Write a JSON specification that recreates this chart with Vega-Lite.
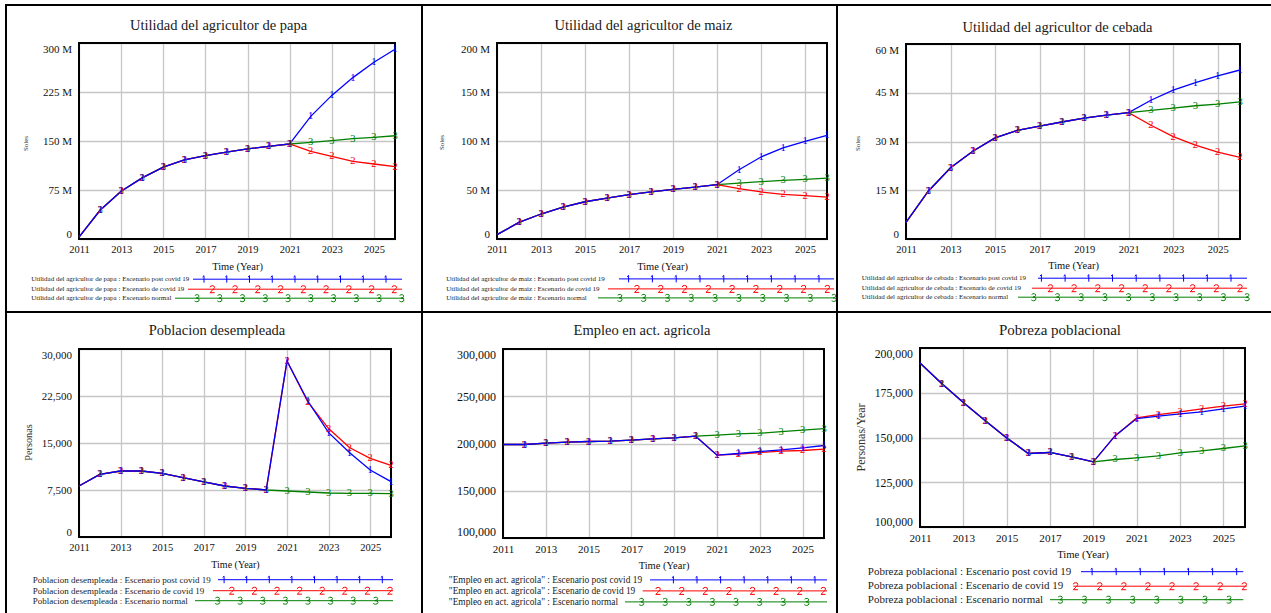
{
"$schema": "https://vega.github.io/schema/vega-lite/v6.json",
"padding": {"left": 5, "top": 4, "right": 0, "bottom": 0},
"background": "white",
"columns": 6,
"spacing": 0,
"bounds": "flush",
"align": "each",
"resolve": {"scale": {"color": "independent", "fill": "independent"}},
"datasets": {
"p1": [
{"t":2011,"1":3000000,"2":3000000,"3":3000000},
{"t":2012,"1":44000000,"2":44000000,"3":44000000},
{"t":2013,"1":73000000,"2":73000000,"3":73000000},
{"t":2014,"1":93500000,"2":93500000,"3":93500000},
{"t":2015,"1":110000000,"2":110000000,"3":110000000},
{"t":2016,"1":121000000,"2":121000000,"3":121000000},
{"t":2017,"1":127500000,"2":127500000,"3":127500000},
{"t":2018,"1":133000000,"2":133000000,"3":133000000},
{"t":2019,"1":138000000,"2":138000000,"3":138000000},
{"t":2020,"1":141700000,"2":141700000,"3":141700000},
{"t":2021,"1":145400000,"2":145400000,"3":145400000},
{"t":2022,"1":187700000,"2":134000000,"3":147900000},
{"t":2023,"1":219800000,"2":126500000,"3":150500000},
{"t":2024,"1":247000000,"2":118800000,"3":153500000},
{"t":2025,"1":270500000,"2":114800000,"3":155500000},
{"t":2026,"1":290500000,"2":110700000,"3":158000000}
],
"p2": [
{"t":2011,"1":4400000,"2":4400000,"3":4400000},
{"t":2012,"1":17000000,"2":17000000,"3":17000000},
{"t":2013,"1":25500000,"2":25500000,"3":25500000},
{"t":2014,"1":32600000,"2":32600000,"3":32600000},
{"t":2015,"1":38000000,"2":38000000,"3":38000000},
{"t":2016,"1":41800000,"2":41800000,"3":41800000},
{"t":2017,"1":45200000,"2":45200000,"3":45200000},
{"t":2018,"1":48000000,"2":48000000,"3":48000000},
{"t":2019,"1":50600000,"2":50600000,"3":50600000},
{"t":2020,"1":53000000,"2":53000000,"3":53000000},
{"t":2021,"1":55400000,"2":55400000,"3":55400000},
{"t":2022,"1":70700000,"2":51300000,"3":57100000},
{"t":2023,"1":83700000,"2":48000000,"3":58500000},
{"t":2024,"1":92900000,"2":45500000,"3":59800000},
{"t":2025,"1":99600000,"2":44200000,"3":60800000},
{"t":2026,"1":105700000,"2":42800000,"3":62200000}
],
"p3": [
{"t":2011,"1":5100000,"2":5100000,"3":5100000},
{"t":2012,"1":14700000,"2":14700000,"3":14700000},
{"t":2013,"1":21900000,"2":21900000,"3":21900000},
{"t":2014,"1":27000000,"2":27000000,"3":27000000},
{"t":2015,"1":31100000,"2":31100000,"3":31100000},
{"t":2016,"1":33400000,"2":33400000,"3":33400000},
{"t":2017,"1":34700000,"2":34700000,"3":34700000},
{"t":2018,"1":36000000,"2":36000000,"3":36000000},
{"t":2019,"1":37200000,"2":37200000,"3":37200000},
{"t":2020,"1":38100000,"2":38100000,"3":38100000},
{"t":2021,"1":38900000,"2":38900000,"3":38900000},
{"t":2022,"1":42700000,"2":35000000,"3":39600000},
{"t":2023,"1":45800000,"2":31500000,"3":40300000},
{"t":2024,"1":48100000,"2":28900000,"3":41000000},
{"t":2025,"1":50200000,"2":26700000,"3":41500000},
{"t":2026,"1":52000000,"2":25100000,"3":42200000}
],
"p4": [
{"t":2011,"1":8140,"2":8140,"3":8140},
{"t":2012,"1":10000,"2":10000,"3":10000},
{"t":2013,"1":10530,"2":10530,"3":10530},
{"t":2014,"1":10530,"2":10530,"3":10530},
{"t":2015,"1":10170,"2":10170,"3":10170},
{"t":2016,"1":9480,"2":9480,"3":9480},
{"t":2017,"1":8780,"2":8780,"3":8780},
{"t":2018,"1":8140,"2":8140,"3":8140},
{"t":2019,"1":7770,"2":7770,"3":7770},
{"t":2020,"1":7500,"2":7500,"3":7500},
{"t":2021,"1":28080,"2":28080,"3":7340},
{"t":2022,"1":21700,"2":21540,"3":7180},
{"t":2023,"1":16660,"2":17300,"3":7020},
{"t":2024,"1":13470,"2":14270,"3":6970},
{"t":2025,"1":10690,"2":12560,"3":6970},
{"t":2026,"1":8840,"2":11440,"3":6930}
],
"p5": [
{"t":2011,"1":198940,"2":198940,"3":198940},
{"t":2012,"1":198940,"2":198940,"3":198940},
{"t":2013,"1":200320,"2":200320,"3":200320},
{"t":2014,"1":201370,"2":201370,"3":201370},
{"t":2015,"1":202110,"2":202110,"3":202110},
{"t":2016,"1":202430,"2":202430,"3":202430},
{"t":2017,"1":203480,"2":203480,"3":203480},
{"t":2018,"1":204860,"2":204860,"3":204860},
{"t":2019,"1":205910,"2":205910,"3":205910},
{"t":2020,"1":207710,"2":207710,"3":207710},
{"t":2021,"1":187650,"2":187650,"3":208760},
{"t":2022,"1":189440,"2":188700,"3":210140},
{"t":2023,"1":191550,"2":190500,"3":210880},
{"t":2024,"1":193240,"2":191870,"3":212670},
{"t":2025,"1":195350,"2":192610,"3":214050},
{"t":2026,"1":197890,"2":193980,"3":215840}
],
"p6": [
{"t":2011,"1":191630,"2":191630,"3":191630},
{"t":2012,"1":180130,"2":180130,"3":180130},
{"t":2013,"1":169530,"2":169530,"3":169530},
{"t":2014,"1":159490,"2":159490,"3":159490},
{"t":2015,"1":149780,"2":149780,"3":149780},
{"t":2016,"1":141070,"2":141070,"3":141070},
{"t":2017,"1":141630,"2":141630,"3":141630},
{"t":2018,"1":139170,"2":139170,"3":139170},
{"t":2019,"1":136380,"2":136380,"3":136380},
{"t":2020,"1":150890,"2":150890,"3":137720},
{"t":2021,"1":160600,"2":160940,"3":138620},
{"t":2022,"1":161890,"2":162830,"3":139730},
{"t":2023,"1":163170,"2":164290,"3":141410},
{"t":2024,"1":164290,"2":165960,"3":142520},
{"t":2025,"1":165960,"2":167470,"3":143860},
{"t":2026,"1":167470,"2":168750,"3":145310}
]
},
"concat": [
{"width": 2, "height": 2, "data": {"values": []}, "mark": "point", "view": {"fill": "black"}},
{"width": 414, "height": 2, "data": {"values": []}, "mark": "point", "view": {"fill": "black"}},
{"width": 2, "height": 2, "data": {"values": []}, "mark": "point", "view": {"fill": "black"}},
{"width": 413, "height": 2, "data": {"values": []}, "mark": "point", "view": {"fill": "black"}},
{"width": 2, "height": 2, "data": {"values": []}, "mark": "point", "view": {"fill": "black"}},
{"width": 433, "height": 2, "data": {"values": []}, "mark": "point", "view": {"fill": "black"}},

{"width": 2, "height": 305, "data": {"values": []}, "mark": "point", "view": {"fill": "black"}},
{
"width": 414, "height": 305,
"data": {"name": "p1"},
"title": {"text": "Utilidad del agricultor de papa", "offset": -38.7, "dx": 4.5, "baseline": "alphabetic"},
"layer": [
{"data": {"values": [{}]}, "mark": {"type": "rect", "filled": false, "stroke": "black", "strokeWidth": 2},
 "encoding": {"x": {"datum": 2011, "type": "quantitative"}, "x2": {"datum": 2026}, "y": {"datum": 0, "type": "quantitative"}, "y2": {"datum": 300000000}}},
{"transform": [{"fold": ["3","2","1"], "as": ["s","v"]}],
 "encoding": {
  "x": {"field": "t", "type": "quantitative", "scale": {"domain": [2011, 2026], "range": [72, 388], "nice": false, "zero": false},
   "axis": {"orient": "top", "offset": -233, "values": [2011,2012,2013,2014,2015,2016,2017,2018,2019,2020,2021,2022,2023,2024,2025,2026], "format": "d", "labelExpr": "datum.value % 2 == 1 ? datum.label : ''", "title": "Time (Year)", "titleY": 30.3, "labelFontSize": 10.5, "titleFontSize": 10.5}},
  "y": {"field": "v", "type": "quantitative", "scale": {"domain": [0, 300000000], "range": [233, 37], "nice": false, "zero": false},
   "axis": {"offset": -72, "values": [0, 75000000, 150000000, 225000000, 300000000], "labelExpr": "datum.value == 0 ? '0' : (datum.value / 1000000) + ' M'", "title": "Soles", "titleX": -54, "titleY": 137, "titleFontSize": 7, "labelFontSize": 11}}
 },
 "layer": [
  {"mark": {"type": "line", "strokeWidth": 1.3},
   "encoding": {"color": {"field": "s", "type": "nominal", "scale": {"domain": ["1","2","3"], "range": ["#0000ff","#ff0000","#008000"]},
   "legend": {"title": null, "orient": "none", "legendX": 391.5, "legendY": 269.7, "rowPadding": -3.8, "labelFontSize": 7, "labelOffset": -374.3,
    "labelExpr": "'Utilidad del agricultor de papa : Escenario ' + (datum.value == '1' ? 'post covid 19' : datum.value == '2' ? 'de covid 19' : 'normal')",
    "encode": {"symbols": {"update": {"fill": {"value": "transparent"}, "fillOpacity": {"value": 0}, "shape": {"signal": "datum.value == '1' ? 'M-209,0H0M-198,-3.5v7m-1.5,-5.6l1.5,-1.4m22.75,0v7m-1.5,-5.6l1.5,-1.4m22.75,0v7m-1.5,-5.6l1.5,-1.4m22.75,0v7m-1.5,-5.6l1.5,-1.4m22.75,0v7m-1.5,-5.6l1.5,-1.4m22.75,0v7m-1.5,-5.6l1.5,-1.4m22.75,0v7m-1.5,-5.6l1.5,-1.4m22.75,0v7m-1.5,-5.6l1.5,-1.4m22.75,0v7m-1.5,-5.6l1.5,-1.4' : datum.value == '2' ? 'M-214,0H0M-191.93,-1.87q0,-1.63 2.23,-1.63q2.23,0 2.23,1.63q0,1.17 -4.6,5.37h4.73m18.16,-5.37q0,-1.63 2.23,-1.63q2.23,0 2.23,1.63q0,1.17 -4.6,5.37h4.73m18.16,-5.37q0,-1.63 2.23,-1.63q2.23,0 2.23,1.63q0,1.17 -4.6,5.37h4.73m18.16,-5.37q0,-1.63 2.23,-1.63q2.23,0 2.23,1.63q0,1.17 -4.6,5.37h4.73m18.16,-5.37q0,-1.63 2.23,-1.63q2.23,0 2.23,1.63q0,1.17 -4.6,5.37h4.73m18.16,-5.37q0,-1.63 2.23,-1.63q2.23,0 2.23,1.63q0,1.17 -4.6,5.37h4.73m18.16,-5.37q0,-1.63 2.23,-1.63q2.23,0 2.23,1.63q0,1.17 -4.6,5.37h4.73m18.16,-5.37q0,-1.63 2.23,-1.63q2.23,0 2.23,1.63q0,1.17 -4.6,5.37h4.73m18.16,-5.37q0,-1.63 2.23,-1.63q2.23,0 2.23,1.63q0,1.17 -4.6,5.37h4.73' : 'M-227,0H2M-207.15,-2.68q1.31,-1.05 2.63,-0.82q1.58,0.35 1.45,1.52q-0.13,1.63 -2.76,1.87q3.15,0 3.02,1.87q-0.13,1.75 -2.37,1.75q-1.45,0 -2.23,-0.82m23.01,-5.37q1.31,-1.05 2.63,-0.82q1.58,0.35 1.45,1.52q-0.13,1.63 -2.76,1.87q3.15,0 3.02,1.87q-0.13,1.75 -2.37,1.75q-1.45,0 -2.23,-0.82m23.01,-5.37q1.31,-1.05 2.63,-0.82q1.58,0.35 1.45,1.52q-0.13,1.63 -2.76,1.87q3.15,0 3.02,1.87q-0.13,1.75 -2.37,1.75q-1.45,0 -2.23,-0.82m23.01,-5.37q1.31,-1.05 2.63,-0.82q1.58,0.35 1.45,1.52q-0.13,1.63 -2.76,1.87q3.15,0 3.02,1.87q-0.13,1.75 -2.37,1.75q-1.45,0 -2.23,-0.82m23.01,-5.37q1.31,-1.05 2.63,-0.82q1.58,0.35 1.45,1.52q-0.13,1.63 -2.76,1.87q3.15,0 3.02,1.87q-0.13,1.75 -2.37,1.75q-1.45,0 -2.23,-0.82m23.01,-5.37q1.31,-1.05 2.63,-0.82q1.58,0.35 1.45,1.52q-0.13,1.63 -2.76,1.87q3.15,0 3.02,1.87q-0.13,1.75 -2.37,1.75q-1.45,0 -2.23,-0.82m23.01,-5.37q1.31,-1.05 2.63,-0.82q1.58,0.35 1.45,1.52q-0.13,1.63 -2.76,1.87q3.15,0 3.02,1.87q-0.13,1.75 -2.37,1.75q-1.45,0 -2.23,-0.82m23.01,-5.37q1.31,-1.05 2.63,-0.82q1.58,0.35 1.45,1.52q-0.13,1.63 -2.76,1.87q3.15,0 3.02,1.87q-0.13,1.75 -2.37,1.75q-1.45,0 -2.23,-0.82m23.01,-5.37q1.31,-1.05 2.63,-0.82q1.58,0.35 1.45,1.52q-0.13,1.63 -2.76,1.87q3.15,0 3.02,1.87q-0.13,1.75 -2.37,1.75q-1.45,0 -2.23,-0.82m23.01,-5.37q1.31,-1.05 2.63,-0.82q1.58,0.35 1.45,1.52q-0.13,1.63 -2.76,1.87q3.15,0 3.02,1.87q-0.13,1.75 -2.37,1.75q-1.45,0 -2.23,-0.82'"}}}}}}}},
  {"transform": [{"filter": "datum.t > 2011"}], "mark": {"type": "text", "font": "Liberation Serif", "fontSize": 10.5, "baseline": "middle"}, "encoding": {"text": {"field": "s"}, "fill": {"field": "s", "type": "nominal", "scale": {"domain": ["1","2","3"], "range": ["#0000ff","#ff0000","#008000"]}, "legend": null}}}
 ]}
]
},
{"width": 2, "height": 305, "data": {"values": []}, "mark": "point", "view": {"fill": "black"}},
{
"width": 413, "height": 305,
"data": {"name": "p2"},
"title": {"text": "Utilidad del agricultor de maiz", "offset": -38.7, "dx": 14, "baseline": "alphabetic"},
"layer": [
{"data": {"values": [{}]}, "mark": {"type": "rect", "filled": false, "stroke": "black", "strokeWidth": 2},
 "encoding": {"x": {"datum": 2011, "type": "quantitative"}, "x2": {"datum": 2026}, "y": {"datum": 0, "type": "quantitative"}, "y2": {"datum": 200000000}}},
{"transform": [{"fold": ["3","2","1"], "as": ["s","v"]}],
 "encoding": {
  "x": {"field": "t", "type": "quantitative", "scale": {"domain": [2011, 2026], "range": [74, 404], "nice": false, "zero": false},
   "axis": {"orient": "top", "offset": -233, "values": [2011,2012,2013,2014,2015,2016,2017,2018,2019,2020,2021,2022,2023,2024,2025,2026], "format": "d", "labelExpr": "datum.value % 2 == 1 ? datum.label : ''", "title": "Time (Year)", "titleY": 30.3, "labelFontSize": 10.5, "titleFontSize": 10.5}},
  "y": {"field": "v", "type": "quantitative", "scale": {"domain": [0, 200000000], "range": [233, 37], "nice": false, "zero": false},
   "axis": {"offset": -74, "values": [0, 50000000, 100000000, 150000000, 200000000], "labelExpr": "datum.value == 0 ? '0' : (datum.value / 1000000) + ' M'", "title": "Soles", "titleX": -56, "titleY": 136, "titleFontSize": 7, "labelFontSize": 11}}
 },
 "layer": [
  {"mark": {"type": "line", "strokeWidth": 1.3},
   "encoding": {"color": {"field": "s", "type": "nominal", "scale": {"domain": ["1","2","3"], "range": ["#0000ff","#ff0000","#008000"]},
   "legend": {"title": null, "orient": "none", "legendX": 407.5, "legendY": 269.4, "rowPadding": -3.65, "labelFontSize": 7, "labelOffset": -391.3,
    "labelExpr": "'Utilidad del agricultor de maiz : Escenario ' + (datum.value == '1' ? 'post covid 19' : datum.value == '2' ? 'de covid 19' : 'normal')",
    "encode": {"symbols": {"update": {"fill": {"value": "transparent"}, "fillOpacity": {"value": 0}, "shape": {"signal": "datum.value == '1' ? 'M-215,0H0M-205.4,-3.5v7m-1.5,-5.6l1.5,-1.4m23.8,0v7m-1.5,-5.6l1.5,-1.4m23.8,0v7m-1.5,-5.6l1.5,-1.4m23.8,0v7m-1.5,-5.6l1.5,-1.4m23.8,0v7m-1.5,-5.6l1.5,-1.4m23.8,0v7m-1.5,-5.6l1.5,-1.4m23.8,0v7m-1.5,-5.6l1.5,-1.4m23.8,0v7m-1.5,-5.6l1.5,-1.4m23.8,0v7m-1.5,-5.6l1.5,-1.4' : datum.value == '2' ? 'M-226,0H0M-199.33,-1.87q0,-1.63 2.23,-1.63q2.23,0 2.23,1.63q0,1.17 -4.6,5.37h4.73m19.21,-5.37q0,-1.63 2.23,-1.63q2.23,0 2.23,1.63q0,1.17 -4.6,5.37h4.73m19.21,-5.37q0,-1.63 2.23,-1.63q2.23,0 2.23,1.63q0,1.17 -4.6,5.37h4.73m19.21,-5.37q0,-1.63 2.23,-1.63q2.23,0 2.23,1.63q0,1.17 -4.6,5.37h4.73m19.21,-5.37q0,-1.63 2.23,-1.63q2.23,0 2.23,1.63q0,1.17 -4.6,5.37h4.73m19.21,-5.37q0,-1.63 2.23,-1.63q2.23,0 2.23,1.63q0,1.17 -4.6,5.37h4.73m19.21,-5.37q0,-1.63 2.23,-1.63q2.23,0 2.23,1.63q0,1.17 -4.6,5.37h4.73m19.21,-5.37q0,-1.63 2.23,-1.63q2.23,0 2.23,1.63q0,1.17 -4.6,5.37h4.73m19.21,-5.37q0,-1.63 2.23,-1.63q2.23,0 2.23,1.63q0,1.17 -4.6,5.37h4.73' : 'M-236,0H0M-216.3,-2.68q1.31,-1.05 2.63,-0.82q1.58,0.35 1.45,1.52q-0.13,1.63 -2.76,1.87q3.15,0 3.02,1.87q-0.13,1.75 -2.37,1.75q-1.45,0 -2.23,-0.82m24.06,-5.37q1.31,-1.05 2.63,-0.82q1.58,0.35 1.45,1.52q-0.13,1.63 -2.76,1.87q3.15,0 3.02,1.87q-0.13,1.75 -2.37,1.75q-1.45,0 -2.23,-0.82m24.06,-5.37q1.31,-1.05 2.63,-0.82q1.58,0.35 1.45,1.52q-0.13,1.63 -2.76,1.87q3.15,0 3.02,1.87q-0.13,1.75 -2.37,1.75q-1.45,0 -2.23,-0.82m24.06,-5.37q1.31,-1.05 2.63,-0.82q1.58,0.35 1.45,1.52q-0.13,1.63 -2.76,1.87q3.15,0 3.02,1.87q-0.13,1.75 -2.37,1.75q-1.45,0 -2.23,-0.82m24.06,-5.37q1.31,-1.05 2.63,-0.82q1.58,0.35 1.45,1.52q-0.13,1.63 -2.76,1.87q3.15,0 3.02,1.87q-0.13,1.75 -2.37,1.75q-1.45,0 -2.23,-0.82m24.06,-5.37q1.31,-1.05 2.63,-0.82q1.58,0.35 1.45,1.52q-0.13,1.63 -2.76,1.87q3.15,0 3.02,1.87q-0.13,1.75 -2.37,1.75q-1.45,0 -2.23,-0.82m24.06,-5.37q1.31,-1.05 2.63,-0.82q1.58,0.35 1.45,1.52q-0.13,1.63 -2.76,1.87q3.15,0 3.02,1.87q-0.13,1.75 -2.37,1.75q-1.45,0 -2.23,-0.82m24.06,-5.37q1.31,-1.05 2.63,-0.82q1.58,0.35 1.45,1.52q-0.13,1.63 -2.76,1.87q3.15,0 3.02,1.87q-0.13,1.75 -2.37,1.75q-1.45,0 -2.23,-0.82m24.06,-5.37q1.31,-1.05 2.63,-0.82q1.58,0.35 1.45,1.52q-0.13,1.63 -2.76,1.87q3.15,0 3.02,1.87q-0.13,1.75 -2.37,1.75q-1.45,0 -2.23,-0.82m24.06,-5.37q1.31,-1.05 2.63,-0.82q1.58,0.35 1.45,1.52q-0.13,1.63 -2.76,1.87q3.15,0 3.02,1.87q-0.13,1.75 -2.37,1.75q-1.45,0 -2.23,-0.82'"}}}}}}}},
  {"transform": [{"filter": "datum.t > 2011"}], "mark": {"type": "text", "font": "Liberation Serif", "fontSize": 10.5, "baseline": "middle"}, "encoding": {"text": {"field": "s"}, "fill": {"field": "s", "type": "nominal", "scale": {"domain": ["1","2","3"], "range": ["#0000ff","#ff0000","#008000"]}, "legend": null}}}
 ]}
]
},
{"width": 2, "height": 305, "data": {"values": []}, "mark": "point", "view": {"fill": "black"}},
{
"width": 433, "height": 305,
"data": {"name": "p3"},
"title": {"text": "Utilidad del agricultor de cebada", "offset": -40.3, "dx": 3, "baseline": "alphabetic"},
"layer": [
{"data": {"values": [{}]}, "mark": {"type": "rect", "filled": false, "stroke": "black", "strokeWidth": 2},
 "encoding": {"x": {"datum": 2011, "type": "quantitative"}, "x2": {"datum": 2026}, "y": {"datum": 0, "type": "quantitative"}, "y2": {"datum": 60000000}}},
{"transform": [{"fold": ["3","2","1"], "as": ["s","v"]}],
 "encoding": {
  "x": {"field": "t", "type": "quantitative", "scale": {"domain": [2011, 2026], "range": [68, 402], "nice": false, "zero": false},
   "axis": {"orient": "top", "offset": -233, "values": [2011,2012,2013,2014,2015,2016,2017,2018,2019,2020,2021,2022,2023,2024,2025,2026], "format": "d", "labelExpr": "datum.value % 2 == 1 ? datum.label : ''", "title": "Time (Year)", "titleY": 29.5, "labelFontSize": 10.5, "titleFontSize": 10.5}},
  "y": {"field": "v", "type": "quantitative", "scale": {"domain": [0, 60000000], "range": [233, 38], "nice": false, "zero": false},
   "axis": {"offset": -68, "values": [0, 15000000, 30000000, 45000000, 60000000], "labelExpr": "datum.value == 0 ? '0' : (datum.value / 1000000) + ' M'", "title": "Soles", "titleX": -48.3, "titleY": 137, "titleFontSize": 7, "labelFontSize": 11}}
 },
 "layer": [
  {"mark": {"type": "line", "strokeWidth": 1.3},
   "encoding": {"color": {"field": "s", "type": "nominal", "scale": {"domain": ["1","2","3"], "range": ["#0000ff","#ff0000","#008000"]},
   "legend": {"title": null, "orient": "none", "legendX": 405.5, "legendY": 268.7, "rowPadding": -3.8, "labelFontSize": 7, "labelOffset": -388.7,
    "labelExpr": "'Utilidad del agricultor de cebada : Escenario ' + (datum.value == '1' ? 'post covid 19' : datum.value == '2' ? 'de covid 19' : 'normal')",
    "encode": {"symbols": {"update": {"fill": {"value": "transparent"}, "fillOpacity": {"value": 0}, "shape": {"signal": "datum.value == '1' ? 'M-209,0H0M-205.6,-3.5v7m-1.5,-5.6l1.5,-1.4m23.7,0v7m-1.5,-5.6l1.5,-1.4m23.7,0v7m-1.5,-5.6l1.5,-1.4m23.7,0v7m-1.5,-5.6l1.5,-1.4m23.7,0v7m-1.5,-5.6l1.5,-1.4m23.7,0v7m-1.5,-5.6l1.5,-1.4m23.7,0v7m-1.5,-5.6l1.5,-1.4m23.7,0v7m-1.5,-5.6l1.5,-1.4m23.7,0v7m-1.5,-5.6l1.5,-1.4' : datum.value == '2' ? 'M-215,0H0M-198.83,-1.87q0,-1.63 2.23,-1.63q2.23,0 2.23,1.63q0,1.17 -4.6,5.37h4.73m19.11,-5.37q0,-1.63 2.23,-1.63q2.23,0 2.23,1.63q0,1.17 -4.6,5.37h4.73m19.11,-5.37q0,-1.63 2.23,-1.63q2.23,0 2.23,1.63q0,1.17 -4.6,5.37h4.73m19.11,-5.37q0,-1.63 2.23,-1.63q2.23,0 2.23,1.63q0,1.17 -4.6,5.37h4.73m19.11,-5.37q0,-1.63 2.23,-1.63q2.23,0 2.23,1.63q0,1.17 -4.6,5.37h4.73m19.11,-5.37q0,-1.63 2.23,-1.63q2.23,0 2.23,1.63q0,1.17 -4.6,5.37h4.73m19.11,-5.37q0,-1.63 2.23,-1.63q2.23,0 2.23,1.63q0,1.17 -4.6,5.37h4.73m19.11,-5.37q0,-1.63 2.23,-1.63q2.23,0 2.23,1.63q0,1.17 -4.6,5.37h4.73m19.11,-5.37q0,-1.63 2.23,-1.63q2.23,0 2.23,1.63q0,1.17 -4.6,5.37h4.73' : 'M-229,0H1M-215.4,-2.68q1.31,-1.05 2.63,-0.82q1.58,0.35 1.45,1.52q-0.13,1.63 -2.76,1.87q3.15,0 3.02,1.87q-0.13,1.75 -2.37,1.75q-1.45,0 -2.23,-0.82m23.96,-5.37q1.31,-1.05 2.63,-0.82q1.58,0.35 1.45,1.52q-0.13,1.63 -2.76,1.87q3.15,0 3.02,1.87q-0.13,1.75 -2.37,1.75q-1.45,0 -2.23,-0.82m23.96,-5.37q1.31,-1.05 2.63,-0.82q1.58,0.35 1.45,1.52q-0.13,1.63 -2.76,1.87q3.15,0 3.02,1.87q-0.13,1.75 -2.37,1.75q-1.45,0 -2.23,-0.82m23.96,-5.37q1.31,-1.05 2.63,-0.82q1.58,0.35 1.45,1.52q-0.13,1.63 -2.76,1.87q3.15,0 3.02,1.87q-0.13,1.75 -2.37,1.75q-1.45,0 -2.23,-0.82m23.96,-5.37q1.31,-1.05 2.63,-0.82q1.58,0.35 1.45,1.52q-0.13,1.63 -2.76,1.87q3.15,0 3.02,1.87q-0.13,1.75 -2.37,1.75q-1.45,0 -2.23,-0.82m23.96,-5.37q1.31,-1.05 2.63,-0.82q1.58,0.35 1.45,1.52q-0.13,1.63 -2.76,1.87q3.15,0 3.02,1.87q-0.13,1.75 -2.37,1.75q-1.45,0 -2.23,-0.82m23.96,-5.37q1.31,-1.05 2.63,-0.82q1.58,0.35 1.45,1.52q-0.13,1.63 -2.76,1.87q3.15,0 3.02,1.87q-0.13,1.75 -2.37,1.75q-1.45,0 -2.23,-0.82m23.96,-5.37q1.31,-1.05 2.63,-0.82q1.58,0.35 1.45,1.52q-0.13,1.63 -2.76,1.87q3.15,0 3.02,1.87q-0.13,1.75 -2.37,1.75q-1.45,0 -2.23,-0.82m23.96,-5.37q1.31,-1.05 2.63,-0.82q1.58,0.35 1.45,1.52q-0.13,1.63 -2.76,1.87q3.15,0 3.02,1.87q-0.13,1.75 -2.37,1.75q-1.45,0 -2.23,-0.82m23.96,-5.37q1.31,-1.05 2.63,-0.82q1.58,0.35 1.45,1.52q-0.13,1.63 -2.76,1.87q3.15,0 3.02,1.87q-0.13,1.75 -2.37,1.75q-1.45,0 -2.23,-0.82'"}}}}}}}},
  {"transform": [{"filter": "datum.t > 2011"}], "mark": {"type": "text", "font": "Liberation Serif", "fontSize": 10.5, "baseline": "middle"}, "encoding": {"text": {"field": "s"}, "fill": {"field": "s", "type": "nominal", "scale": {"domain": ["1","2","3"], "range": ["#0000ff","#ff0000","#008000"]}, "legend": null}}}
 ]}
]
},

{"width": 2, "height": 2, "data": {"values": []}, "mark": "point", "view": {"fill": "black"}},
{"width": 414, "height": 2, "data": {"values": []}, "mark": "point", "view": {"fill": "black"}},
{"width": 2, "height": 2, "data": {"values": []}, "mark": "point", "view": {"fill": "black"}},
{"width": 413, "height": 2, "data": {"values": []}, "mark": "point", "view": {"fill": "black"}},
{"width": 2, "height": 2, "data": {"values": []}, "mark": "point", "view": {"fill": "black"}},
{"width": 433, "height": 2, "data": {"values": []}, "mark": "point", "view": {"fill": "black"}},

{"width": 2, "height": 300, "data": {"values": []}, "mark": "point", "view": {"fill": "black"}},
{
"width": 414, "height": 300,
"data": {"name": "p4"},
"title": {"text": "Poblacion desempleada", "offset": -36.7, "dx": 3, "baseline": "alphabetic"},
"layer": [
{"data": {"values": [{}]}, "mark": {"type": "rect", "filled": false, "stroke": "black", "strokeWidth": 2},
 "encoding": {"x": {"datum": 2011, "type": "quantitative"}, "x2": {"datum": 2026}, "y": {"datum": 0, "type": "quantitative"}, "y2": {"datum": 30000}}},
{"transform": [{"fold": ["3","2","1"], "as": ["s","v"]}],
 "encoding": {
  "x": {"field": "t", "type": "quantitative", "scale": {"domain": [2011, 2026], "range": [72, 384], "nice": false, "zero": false},
   "axis": {"orient": "top", "offset": -224, "values": [2011,2012,2013,2014,2015,2016,2017,2018,2019,2020,2021,2022,2023,2024,2025,2026], "format": "d", "labelExpr": "datum.value % 2 == 1 ? datum.label : ''", "title": "Time (Year)", "titleY": 30.7, "labelFontSize": 10.5, "titleFontSize": 10}},
  "y": {"field": "v", "type": "quantitative", "scale": {"domain": [0, 30000], "range": [224, 36], "nice": false, "zero": false},
   "axis": {"offset": -72, "values": [0, 7500, 15000, 22500, 30000], "labelExpr": "format(datum.value, ',')", "title": "Personas", "titleX": -51, "titleY": 129, "titleFontSize": 10.3, "labelFontSize": 11}}
 },
 "layer": [
  {"mark": {"type": "line", "strokeWidth": 1.3},
   "encoding": {"color": {"field": "s", "type": "nominal", "scale": {"domain": ["1","2","3"], "range": ["#0000ff","#ff0000","#008000"]},
   "legend": {"title": null, "orient": "none", "legendX": 381.5, "legendY": 262.2, "rowPadding": -2, "labelFontSize": 9, "labelOffset": -364.7,
    "labelExpr": "'Poblacion desempleada : Escenario ' + (datum.value == '1' ? 'post covid 19' : datum.value == '2' ? 'de covid 19' : 'normal')",
    "encode": {"symbols": {"update": {"fill": {"value": "transparent"}, "fillOpacity": {"value": 0}, "shape": {"signal": "datum.value == '1' ? 'M-175,0H0M-168.9,-3.5v7m-1.5,-5.6l1.5,-1.4m22.6,0v7m-1.5,-5.6l1.5,-1.4m22.6,0v7m-1.5,-5.6l1.5,-1.4m22.6,0v7m-1.5,-5.6l1.5,-1.4m22.6,0v7m-1.5,-5.6l1.5,-1.4m22.6,0v7m-1.5,-5.6l1.5,-1.4m22.6,0v7m-1.5,-5.6l1.5,-1.4m22.6,0v7m-1.5,-5.6l1.5,-1.4' : datum.value == '2' ? 'M-180,0H0M-163.43,-1.87q0,-1.63 2.23,-1.63q2.23,0 2.23,1.63q0,1.17 -4.6,5.37h4.73m18.01,-5.37q0,-1.63 2.23,-1.63q2.23,0 2.23,1.63q0,1.17 -4.6,5.37h4.73m18.01,-5.37q0,-1.63 2.23,-1.63q2.23,0 2.23,1.63q0,1.17 -4.6,5.37h4.73m18.01,-5.37q0,-1.63 2.23,-1.63q2.23,0 2.23,1.63q0,1.17 -4.6,5.37h4.73m18.01,-5.37q0,-1.63 2.23,-1.63q2.23,0 2.23,1.63q0,1.17 -4.6,5.37h4.73m18.01,-5.37q0,-1.63 2.23,-1.63q2.23,0 2.23,1.63q0,1.17 -4.6,5.37h4.73m18.01,-5.37q0,-1.63 2.23,-1.63q2.23,0 2.23,1.63q0,1.17 -4.6,5.37h4.73m18.01,-5.37q0,-1.63 2.23,-1.63q2.23,0 2.23,1.63q0,1.17 -4.6,5.37h4.73' : 'M-198,0H0M-177.6,-2.68q1.31,-1.05 2.63,-0.82q1.58,0.35 1.45,1.52q-0.13,1.63 -2.76,1.87q3.15,0 3.02,1.87q-0.13,1.75 -2.37,1.75q-1.45,0 -2.23,-0.82m22.86,-5.37q1.31,-1.05 2.63,-0.82q1.58,0.35 1.45,1.52q-0.13,1.63 -2.76,1.87q3.15,0 3.02,1.87q-0.13,1.75 -2.37,1.75q-1.45,0 -2.23,-0.82m22.86,-5.37q1.31,-1.05 2.63,-0.82q1.58,0.35 1.45,1.52q-0.13,1.63 -2.76,1.87q3.15,0 3.02,1.87q-0.13,1.75 -2.37,1.75q-1.45,0 -2.23,-0.82m22.86,-5.37q1.31,-1.05 2.63,-0.82q1.58,0.35 1.45,1.52q-0.13,1.63 -2.76,1.87q3.15,0 3.02,1.87q-0.13,1.75 -2.37,1.75q-1.45,0 -2.23,-0.82m22.86,-5.37q1.31,-1.05 2.63,-0.82q1.58,0.35 1.45,1.52q-0.13,1.63 -2.76,1.87q3.15,0 3.02,1.87q-0.13,1.75 -2.37,1.75q-1.45,0 -2.23,-0.82m22.86,-5.37q1.31,-1.05 2.63,-0.82q1.58,0.35 1.45,1.52q-0.13,1.63 -2.76,1.87q3.15,0 3.02,1.87q-0.13,1.75 -2.37,1.75q-1.45,0 -2.23,-0.82m22.86,-5.37q1.31,-1.05 2.63,-0.82q1.58,0.35 1.45,1.52q-0.13,1.63 -2.76,1.87q3.15,0 3.02,1.87q-0.13,1.75 -2.37,1.75q-1.45,0 -2.23,-0.82m22.86,-5.37q1.31,-1.05 2.63,-0.82q1.58,0.35 1.45,1.52q-0.13,1.63 -2.76,1.87q3.15,0 3.02,1.87q-0.13,1.75 -2.37,1.75q-1.45,0 -2.23,-0.82'"}}}}}}}},
  {"transform": [{"filter": "datum.t > 2011"}], "mark": {"type": "text", "font": "Liberation Serif", "fontSize": 10.5, "baseline": "middle"}, "encoding": {"text": {"field": "s"}, "fill": {"field": "s", "type": "nominal", "scale": {"domain": ["1","2","3"], "range": ["#0000ff","#ff0000","#008000"]}, "legend": null}}}
 ]}
]
},
{"width": 2, "height": 300, "data": {"values": []}, "mark": "point", "view": {"fill": "black"}},
{
"width": 413, "height": 300,
"data": {"name": "p5"},
"title": {"text": "Empleo en act. agricola", "offset": -36.7, "dx": 12.5, "baseline": "alphabetic"},
"layer": [
{"data": {"values": [{}]}, "mark": {"type": "rect", "filled": false, "stroke": "black", "strokeWidth": 2},
 "encoding": {"x": {"datum": 2011, "type": "quantitative"}, "x2": {"datum": 2026}, "y": {"datum": 100000, "type": "quantitative"}, "y2": {"datum": 300000}}},
{"transform": [{"fold": ["3","2","1"], "as": ["s","v"]}],
 "encoding": {
  "x": {"field": "t", "type": "quantitative", "scale": {"domain": [2011, 2026], "range": [80, 401], "nice": false, "zero": false},
   "axis": {"orient": "top", "offset": -225, "values": [2011,2012,2013,2014,2015,2016,2017,2018,2019,2020,2021,2022,2023,2024,2025,2026], "format": "d", "labelExpr": "datum.value % 2 == 1 ? datum.label : ''", "title": "Time (Year)", "titleY": 30.7, "labelFontSize": 11, "titleFontSize": 10.5}},
  "y": {"field": "v", "type": "quantitative", "scale": {"domain": [100000, 300000], "range": [225, 36], "nice": false, "zero": false},
   "axis": {"offset": -80, "values": [100000, 150000, 200000, 250000, 300000], "labelExpr": "format(datum.value, ',')", "title": null, "labelFontSize": 12}}
 },
 "layer": [
  {"mark": {"type": "line", "strokeWidth": 1.3},
   "encoding": {"color": {"field": "s", "type": "nominal", "scale": {"domain": ["1","2","3"], "range": ["#0000ff","#ff0000","#008000"]},
   "legend": {"title": null, "orient": "none", "legendX": 399.3, "legendY": 262.2, "rowPadding": -2, "labelFontSize": 9.4, "labelOffset": -382.9,
    "labelExpr": "'\"Empleo en act. agricola\" : Escenario ' + (datum.value == '1' ? 'post covid 19' : datum.value == '2' ? 'de covid 19' : 'normal')",
    "encode": {"symbols": {"update": {"fill": {"value": "transparent"}, "fillOpacity": {"value": 0}, "shape": {"signal": "datum.value == '1' ? 'M-177,0H0M-153.6,-3.5v7m-1.5,-5.6l1.5,-1.4m23.6,0v7m-1.5,-5.6l1.5,-1.4m23.6,0v7m-1.5,-5.6l1.5,-1.4m23.6,0v7m-1.5,-5.6l1.5,-1.4m23.6,0v7m-1.5,-5.6l1.5,-1.4m23.6,0v7m-1.5,-5.6l1.5,-1.4m23.6,0v7m-1.5,-5.6l1.5,-1.4' : datum.value == '2' ? 'M-184.3,0H0M-171.13,-1.87q0,-1.63 2.23,-1.63q2.23,0 2.23,1.63q0,1.17 -4.6,5.37h4.73m19.01,-5.37q0,-1.63 2.23,-1.63q2.23,0 2.23,1.63q0,1.17 -4.6,5.37h4.73m19.01,-5.37q0,-1.63 2.23,-1.63q2.23,0 2.23,1.63q0,1.17 -4.6,5.37h4.73m19.01,-5.37q0,-1.63 2.23,-1.63q2.23,0 2.23,1.63q0,1.17 -4.6,5.37h4.73m19.01,-5.37q0,-1.63 2.23,-1.63q2.23,0 2.23,1.63q0,1.17 -4.6,5.37h4.73m19.01,-5.37q0,-1.63 2.23,-1.63q2.23,0 2.23,1.63q0,1.17 -4.6,5.37h4.73m19.01,-5.37q0,-1.63 2.23,-1.63q2.23,0 2.23,1.63q0,1.17 -4.6,5.37h4.73m19.01,-5.37q0,-1.63 2.23,-1.63q2.23,0 2.23,1.63q0,1.17 -4.6,5.37h4.73' : 'M-202,0H0M-187.6,-2.68q1.31,-1.05 2.63,-0.82q1.58,0.35 1.45,1.52q-0.13,1.63 -2.76,1.87q3.15,0 3.02,1.87q-0.13,1.75 -2.37,1.75q-1.45,0 -2.23,-0.82m23.86,-5.37q1.31,-1.05 2.63,-0.82q1.58,0.35 1.45,1.52q-0.13,1.63 -2.76,1.87q3.15,0 3.02,1.87q-0.13,1.75 -2.37,1.75q-1.45,0 -2.23,-0.82m23.86,-5.37q1.31,-1.05 2.63,-0.82q1.58,0.35 1.45,1.52q-0.13,1.63 -2.76,1.87q3.15,0 3.02,1.87q-0.13,1.75 -2.37,1.75q-1.45,0 -2.23,-0.82m23.86,-5.37q1.31,-1.05 2.63,-0.82q1.58,0.35 1.45,1.52q-0.13,1.63 -2.76,1.87q3.15,0 3.02,1.87q-0.13,1.75 -2.37,1.75q-1.45,0 -2.23,-0.82m23.86,-5.37q1.31,-1.05 2.63,-0.82q1.58,0.35 1.45,1.52q-0.13,1.63 -2.76,1.87q3.15,0 3.02,1.87q-0.13,1.75 -2.37,1.75q-1.45,0 -2.23,-0.82m23.86,-5.37q1.31,-1.05 2.63,-0.82q1.58,0.35 1.45,1.52q-0.13,1.63 -2.76,1.87q3.15,0 3.02,1.87q-0.13,1.75 -2.37,1.75q-1.45,0 -2.23,-0.82m23.86,-5.37q1.31,-1.05 2.63,-0.82q1.58,0.35 1.45,1.52q-0.13,1.63 -2.76,1.87q3.15,0 3.02,1.87q-0.13,1.75 -2.37,1.75q-1.45,0 -2.23,-0.82m23.86,-5.37q1.31,-1.05 2.63,-0.82q1.58,0.35 1.45,1.52q-0.13,1.63 -2.76,1.87q3.15,0 3.02,1.87q-0.13,1.75 -2.37,1.75q-1.45,0 -2.23,-0.82'"}}}}}}}},
  {"transform": [{"filter": "datum.t > 2011"}], "mark": {"type": "text", "font": "Liberation Serif", "fontSize": 10.5, "baseline": "middle"}, "encoding": {"text": {"field": "s"}, "fill": {"field": "s", "type": "nominal", "scale": {"domain": ["1","2","3"], "range": ["#0000ff","#ff0000","#008000"]}, "legend": null}}}
 ]}
]
},
{"width": 2, "height": 300, "data": {"values": []}, "mark": "point", "view": {"fill": "black"}},
{
"width": 433, "height": 300,
"data": {"name": "p6"},
"title": {"text": "Pobreza poblacional", "offset": -36.7, "dx": 5.5, "fontSize": 15, "baseline": "alphabetic"},
"layer": [
{"data": {"values": [{}]}, "mark": {"type": "rect", "filled": false, "stroke": "black", "strokeWidth": 2},
 "encoding": {"x": {"datum": 2011, "type": "quantitative"}, "x2": {"datum": 2026}, "y": {"datum": 100000, "type": "quantitative"}, "y2": {"datum": 200000}}},
{"transform": [{"fold": ["3","2","1"], "as": ["s","v"]}],
 "encoding": {
  "x": {"field": "t", "type": "quantitative", "scale": {"domain": [2011, 2026], "range": [82, 407], "nice": false, "zero": false},
   "axis": {"orient": "top", "offset": -214, "values": [2011,2012,2013,2014,2015,2016,2017,2018,2019,2020,2021,2022,2023,2024,2025,2026], "format": "d", "labelExpr": "datum.value % 2 == 1 ? datum.label : ''", "title": "Time (Year)", "titleY": 30.7, "labelFontSize": 11.2, "titleFontSize": 10.7}},
  "y": {"field": "v", "type": "quantitative", "scale": {"domain": [100000, 200000], "range": [214, 35], "nice": false, "zero": false},
   "axis": {"offset": -82, "values": [100000, 125000, 150000, 175000, 200000], "labelExpr": "format(datum.value, ',')", "title": "Personas/Year", "titleX": -60, "titleY": 124, "titleFontSize": 12, "labelFontSize": 11.8}}
 },
 "layer": [
  {"mark": {"type": "line", "strokeWidth": 1.3},
   "encoding": {"color": {"field": "s", "type": "nominal", "scale": {"domain": ["1","2","3"], "range": ["#0000ff","#ff0000","#008000"]},
   "legend": {"title": null, "orient": "none", "legendX": 401.5, "legendY": 253.2, "rowPadding": 1.5, "labelFontSize": 11, "labelOffset": -382.7,
    "labelExpr": "'Pobreza poblacional : Escenario ' + (datum.value == '1' ? 'post covid 19' : datum.value == '2' ? 'de covid 19' : 'normal')",
    "encode": {"symbols": {"update": {"fill": {"value": "transparent"}, "fillOpacity": {"value": 0}, "shape": {"signal": "datum.value == '1' ? 'M-164,0H-1.7M-152.9,-3.5v7m-1.5,-5.6l1.5,-1.4m24.1,0v7m-1.5,-5.6l1.5,-1.4m24.1,0v7m-1.5,-5.6l1.5,-1.4m24.1,0v7m-1.5,-5.6l1.5,-1.4m24.1,0v7m-1.5,-5.6l1.5,-1.4m24.1,0v7m-1.5,-5.6l1.5,-1.4m24.1,0v7m-1.5,-5.6l1.5,-1.4' : datum.value == '2' ? 'M-171.7,0H1.7M-171.63,-1.87q0,-1.63 2.23,-1.63q2.23,0 2.23,1.63q0,1.17 -4.6,5.37h4.73m19.51,-5.37q0,-1.63 2.23,-1.63q2.23,0 2.23,1.63q0,1.17 -4.6,5.37h4.73m19.51,-5.37q0,-1.63 2.23,-1.63q2.23,0 2.23,1.63q0,1.17 -4.6,5.37h4.73m19.51,-5.37q0,-1.63 2.23,-1.63q2.23,0 2.23,1.63q0,1.17 -4.6,5.37h4.73m19.51,-5.37q0,-1.63 2.23,-1.63q2.23,0 2.23,1.63q0,1.17 -4.6,5.37h4.73m19.51,-5.37q0,-1.63 2.23,-1.63q2.23,0 2.23,1.63q0,1.17 -4.6,5.37h4.73m19.51,-5.37q0,-1.63 2.23,-1.63q2.23,0 2.23,1.63q0,1.17 -4.6,5.37h4.73m19.51,-5.37q0,-1.63 2.23,-1.63q2.23,0 2.23,1.63q0,1.17 -4.6,5.37h4.73' : 'M-195,0H-1.7M-186.8,-2.68q1.31,-1.05 2.63,-0.82q1.58,0.35 1.45,1.52q-0.13,1.63 -2.76,1.87q3.15,0 3.02,1.87q-0.13,1.75 -2.37,1.75q-1.45,0 -2.23,-0.82m24.36,-5.37q1.31,-1.05 2.63,-0.82q1.58,0.35 1.45,1.52q-0.13,1.63 -2.76,1.87q3.15,0 3.02,1.87q-0.13,1.75 -2.37,1.75q-1.45,0 -2.23,-0.82m24.36,-5.37q1.31,-1.05 2.63,-0.82q1.58,0.35 1.45,1.52q-0.13,1.63 -2.76,1.87q3.15,0 3.02,1.87q-0.13,1.75 -2.37,1.75q-1.45,0 -2.23,-0.82m24.36,-5.37q1.31,-1.05 2.63,-0.82q1.58,0.35 1.45,1.52q-0.13,1.63 -2.76,1.87q3.15,0 3.02,1.87q-0.13,1.75 -2.37,1.75q-1.45,0 -2.23,-0.82m24.36,-5.37q1.31,-1.05 2.63,-0.82q1.58,0.35 1.45,1.52q-0.13,1.63 -2.76,1.87q3.15,0 3.02,1.87q-0.13,1.75 -2.37,1.75q-1.45,0 -2.23,-0.82m24.36,-5.37q1.31,-1.05 2.63,-0.82q1.58,0.35 1.45,1.52q-0.13,1.63 -2.76,1.87q3.15,0 3.02,1.87q-0.13,1.75 -2.37,1.75q-1.45,0 -2.23,-0.82m24.36,-5.37q1.31,-1.05 2.63,-0.82q1.58,0.35 1.45,1.52q-0.13,1.63 -2.76,1.87q3.15,0 3.02,1.87q-0.13,1.75 -2.37,1.75q-1.45,0 -2.23,-0.82m24.36,-5.37q1.31,-1.05 2.63,-0.82q1.58,0.35 1.45,1.52q-0.13,1.63 -2.76,1.87q3.15,0 3.02,1.87q-0.13,1.75 -2.37,1.75q-1.45,0 -2.23,-0.82'"}}}}}}}},
  {"transform": [{"filter": "datum.t > 2011"}], "mark": {"type": "text", "font": "Liberation Serif", "fontSize": 10.5, "baseline": "middle"}, "encoding": {"text": {"field": "s"}, "fill": {"field": "s", "type": "nominal", "scale": {"domain": ["1","2","3"], "range": ["#0000ff","#ff0000","#008000"]}, "legend": null}}}
 ]}
]
}
],
"config": {
"view": {"stroke": null},
"font": "Liberation Serif",
"title": {"font": "Liberation Serif", "fontSize": 14.5, "fontWeight": "normal", "color": "#1a1a1a", "anchor": "middle", "frame": "group"},
"axis": {"labelFont": "Liberation Serif", "titleFont": "Liberation Serif", "labelColor": "#111", "titleColor": "#111", "titleFontWeight": "normal", "ticks": false, "tickSize": 0, "domain": false, "grid": true, "gridColor": "#c6c6c6", "gridWidth": 1.3, "labelOverlap": false},
"axisY": {"labelFlush": true, "labelPadding": 7.5, "titleAngle": 270, "titleAlign": "center", "titleBaseline": "middle", "titleColor": "#333"},
"axisX": {"labelFlush": false, "labelBaseline": "top", "labelPadding": -5.6, "labelAngle": 0, "titleBaseline": "alphabetic"},
"legend": {"labelFont": "Liberation Serif", "labelColor": "#222", "padding": 0, "symbolSize": 4, "symbolStrokeWidth": 1, "symbolFillColor": "transparent", "labelLimit": 1000, "labelAlign": "left"}
}
}
